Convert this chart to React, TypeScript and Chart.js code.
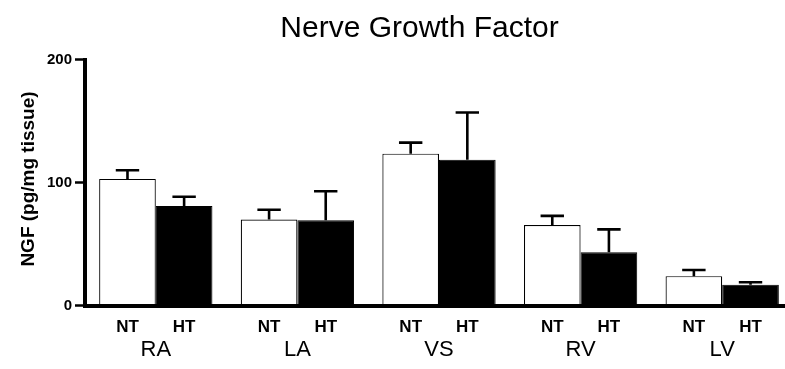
import React, { useEffect, useRef } from "react";
import { Chart, registerables } from "chart.js";

Chart.register(...registerables);

const categories = ["RA", "LA", "VS", "RV", "LV"];
const groupLabels = ["NT", "HT"];
const ntMeans = [103, 70, 123.5, 65.5, 24];
const ntErrors = [7, 8, 9, 7.5, 5];
const htMeans = [81, 69.5, 118.5, 43.5, 17];
const htErrors = [7.5, 23.5, 38.5, 18.5, 2];
const yTicks = [0, 100, 200];
const titleText = "Nerve Growth Factor";
const yTitleText = "NGF (pg/mg tissue)";

const FONT = "'Liberation Sans', Arial, Helvetica, sans-serif";
const errorSets = [ntErrors, htErrors];

const annotatePlugin = {
  id: "annotate",
  afterDatasetsDraw(chart: any) {
    const { ctx, chartArea, scales } = chart;
    const y = scales.y;
    ctx.save();
    chart.data.datasets.forEach((ds: any, di: number) => {
      const meta = chart.getDatasetMeta(di);
      meta.data.forEach((el: any, i: number) => {
        const v = ds.data[i];
        const base = y.getPixelForValue(v);
        const top = y.getPixelForValue(v + errorSets[di][i]);
        ctx.strokeStyle = "#000";
        ctx.lineWidth = 2.6;
        ctx.lineCap = "butt";
        ctx.beginPath();
        ctx.moveTo(el.x, base);
        ctx.lineTo(el.x, top);
        ctx.moveTo(el.x - 11.7, top);
        ctx.lineTo(el.x + 11.7, top);
        ctx.stroke();
        ctx.fillStyle = "#000";
        ctx.font = `bold 17px ${FONT}`;
        ctx.textAlign = "center";
        ctx.textBaseline = "alphabetic";
        ctx.fillText(groupLabels[di], el.x, chartArea.bottom + 26);
      });
    });
    ctx.fillStyle = "#000";
    ctx.font = `30px ${FONT}`;
    ctx.textAlign = "center";
    ctx.textBaseline = "alphabetic";
    ctx.fillText(titleText, 419.5, 36.7);
    ctx.translate(29, 179);
    ctx.rotate(-Math.PI / 2);
    ctx.font = `bold 19px ${FONT}`;
    ctx.textBaseline = "middle";
    ctx.fillText(yTitleText, 0, 0);
    ctx.restore();
  },
};

export default function App() {
  const ref = useRef<HTMLCanvasElement | null>(null);
  useEffect(() => {
    document.body.style.margin = "0";
    document.body.style.overflow = "hidden";
    const canvas = ref.current;
    if (!canvas) return;
    const chart = new Chart(canvas, {
      type: "bar",
      data: {
        labels: categories,
        datasets: [
          {
            label: groupLabels[0],
            data: ntMeans,
            backgroundColor: "#ffffff",
            borderColor: "#000000",
            borderWidth: 1.2,
            categoryPercentage: 0.8,
            barPercentage: 1.0,
          },
          {
            label: groupLabels[1],
            data: htMeans,
            backgroundColor: "#000000",
            borderColor: "#000000",
            borderWidth: 1,
            categoryPercentage: 0.8,
            barPercentage: 1.0,
          },
        ],
      },
      options: {
        responsive: false,
        animation: false,
        devicePixelRatio: 1,
        layout: { padding: { top: 59.5, left: 0, right: 0, bottom: 0 } },
        plugins: {
          legend: { display: false },
          title: { display: false },
          tooltip: { enabled: false },
        },
        scales: {
          x: {
            offset: true,
            afterFit: (s: any) => {
              s.height = 63.3;
            },
            ticks: {
              font: { family: FONT, size: 22 },
              color: "#000",
              padding: 31,
            },
            grid: { display: false, drawTicks: false },
            border: { display: true, color: "#000", width: 4, z: 1 },
          },
          y: {
            min: 0,
            max: 200,
            afterFit: (s: any) => {
              s.width = 85;
            },
            afterBuildTicks: (s: any) => {
              s.ticks = yTicks.map((v) => ({ value: v }));
            },
            ticks: {
              font: { family: FONT, size: 15, weight: "bold" },
              color: "#000",
              padding: 3,
            },
            grid: {
              drawOnChartArea: false,
              drawTicks: true,
              tickLength: 10,
              tickWidth: 2.5,
              tickColor: "#000",
            },
            border: { display: true, color: "#000", width: 4, z: 1 },
          },
        },
      },
      plugins: [annotatePlugin],
    } as any);
    return () => chart.destroy();
  }, []);
  return (
    <div style={{ width: 785, height: 369, overflow: "hidden" }}>
      <canvas ref={ref} width={793} height={369} style={{ display: "block" }} />
    </div>
  );
}
